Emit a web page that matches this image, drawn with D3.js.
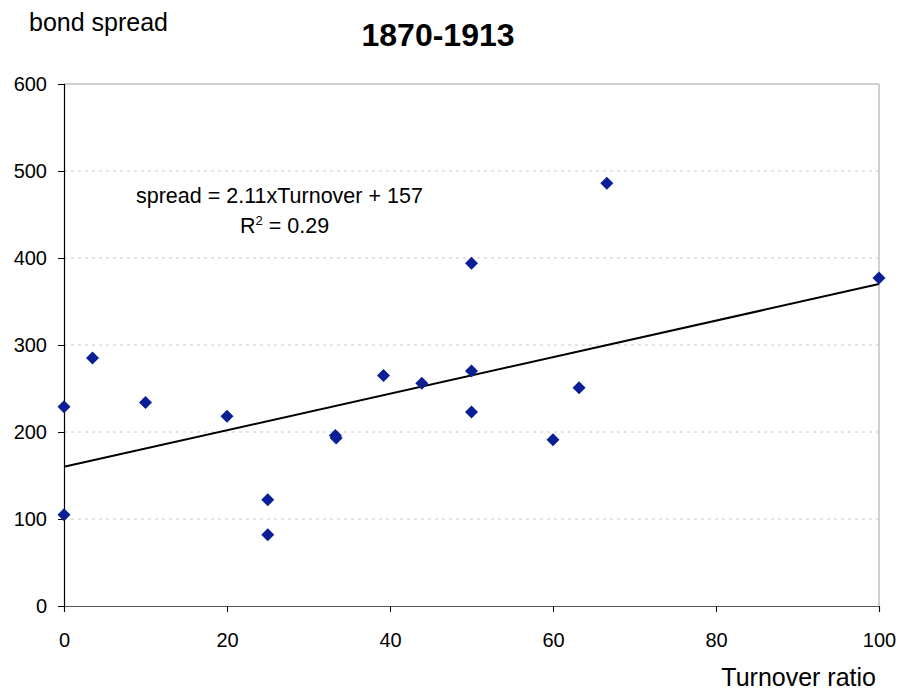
<!DOCTYPE html>
<html><head><meta charset="utf-8">
<script src="https://cdn.jsdelivr.net/npm/d3@7"></script>
<style>body{margin:0;background:#fff}svg{display:block}text{font-family:"Liberation Sans",Arial,sans-serif;fill:#000}</style>
</head><body><svg id="c" width="899" height="690"></svg>
<script>
const turnover = [0, 0, 3.5, 10, 20, 25, 25, 33.3, 33.4, 39.2, 43.9, 50, 50, 50, 60, 63.2, 66.6, 100];
const spread   = [229, 105, 285, 234, 218, 122, 82, 196, 193, 265, 256, 394, 270, 223, 191, 251, 486, 377];
const trendX = [0, 100];
const trendY = [160, 370];
const xTicks = [0, 20, 40, 60, 80, 100];
const yTicks = [0, 100, 200, 300, 400, 500, 600];
const title = "1870-1913", yTitle = "bond spread", xTitle = "Turnover ratio";
const eqLine1 = "spread = 2.11xTurnover + 157", eqR = "R", eqR2 = " = 0.29";

const svg = d3.select("#c");
const L = 64, R = 879, T = 84, B = 606;
const x = d3.scaleLinear().domain([0, 100]).range([L, R]);
const y = d3.scaleLinear().domain([0, 600]).range([B, T]);

// grid
svg.append("g").selectAll("line").data(yTicks.filter(v => v > 0 && v < 600)).join("line")
  .attr("x1", L).attr("x2", R).attr("y1", d => y(d)).attr("y2", d => y(d))
  .attr("stroke", "#c8c8c8").attr("stroke-dasharray", "3,4");
// plot frame top/right
svg.append("line").attr("x1", L).attr("x2", R).attr("y1", T).attr("y2", T).attr("stroke", "#a0a0a0");
svg.append("line").attr("x1", R).attr("x2", R).attr("y1", T).attr("y2", B).attr("stroke", "#c0c0c0").attr("stroke-width", 1.5);

const yAxis = svg.append("g").attr("transform", `translate(${L},0)`)
  .call(d3.axisLeft(y).tickValues(yTicks).tickSize(6).tickPadding(11).tickFormat(d3.format("d")));
const xAxis = svg.append("g").attr("transform", `translate(0,${B})`)
  .call(d3.axisBottom(x).tickValues(xTicks).tickSize(6).tickPadding(21).tickFormat(d3.format("d")));
[yAxis, xAxis].forEach(g => {
  g.select(".domain").attr("stroke", "#000").attr("stroke-width", 1.2);
  g.selectAll(".tick line").attr("stroke", "#000");
  g.selectAll("text").style("font-size", "20px").style("font-family", "Liberation Sans, Arial, sans-serif").attr("fill", "#000");
});
xAxis.select(".domain").attr("stroke", "#555");

// trend line
svg.append("line").attr("x1", x(trendX[0])).attr("y1", y(trendY[0])).attr("x2", x(trendX[1])).attr("y2", y(trendY[1]))
  .attr("stroke", "#000").attr("stroke-width", 2);

// points
const pts = turnover.map((t, i) => ({t, s: spread[i]}));
svg.append("g").selectAll("path").data(pts).join("path")
  .attr("transform", d => `translate(${x(d.t)},${y(d.s)})`)
  .attr("d", "M0,-6.5L6.5,0L0,6.5L-6.5,0Z")
  .attr("fill", "#0a1e96");

// texts
svg.append("text").attr("x", 438).attr("y", 46).attr("text-anchor", "middle")
  .style("font-size", "32px").style("font-weight", "bold").text(title);
svg.append("text").attr("x", 29).attr("y", 31).style("font-size", "25px").text(yTitle);
svg.append("text").attr("x", 876).attr("y", 686).attr("text-anchor", "end").style("font-size", "25px").text(xTitle);
svg.append("text").attr("x", 136).attr("y", 203).style("font-size", "21.5px").text(eqLine1);
const t2 = svg.append("text").attr("x", 240).attr("y", 233).style("font-size", "21.5px");
t2.append("tspan").text(eqR);
t2.append("tspan").attr("dy", -8).style("font-size", "13px").text("2");
t2.append("tspan").attr("dy", 8).text(eqR2);
</script></body></html>
